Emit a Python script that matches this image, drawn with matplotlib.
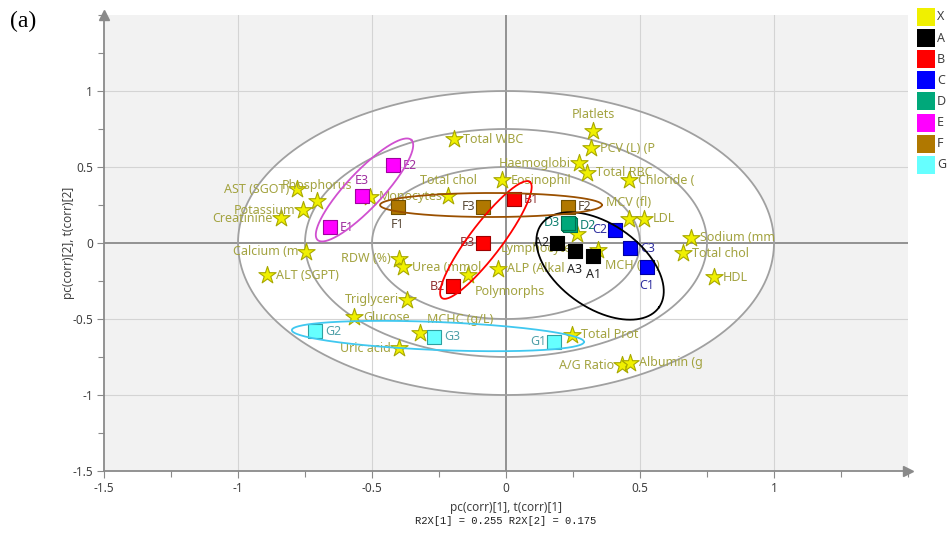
import numpy as np
import matplotlib.pyplot as plt
from matplotlib.patches import Rectangle
from matplotlib.ticker import MultipleLocator, FuncFormatter

plt.rcParams['font.family'] = ['Noto Sans', 'DejaVu Sans']
plt.rcParams['axes.unicode_minus'] = False

# loadings of the measured variables (group X)
var_names = ['Platlets', 'PCV (L) (P', 'Haemoglobi', 'Total RBC', 'Chloride (',
             'Eosinophil', 'Total WBC', 'Total chol', 'Monocytes', 'AST (SGOT)',
             'Phosphorus', 'Potassium', 'Creatinine', 'Calcium (m', 'ALT (SGPT)',
             'RDW (%)', 'Urea (mmol', 'Polymorphs', 'ALP (Alkal', 'Triglyceri',
             'Glucose', 'MCHC (g/L)', 'Uric acid', 'Total Prot', 'A/G Ratio',
             'Albumin (g', 'MCV (fl)', 'LDL', 'Lymphocyte', 'MCH (pg)',
             'Sodium (mm', 'Total chol', 'HDL']
var_x = [0.325, 0.317, 0.272, 0.302, 0.459,
         -0.015, -0.194, -0.216, -0.507, -0.780,
         -0.705, -0.757, -0.840, -0.746, -0.892,
         -0.399, -0.384, -0.142, -0.030, -0.369,
         -0.567, -0.321, -0.399, 0.246, 0.433,
         0.463, 0.459, 0.515, 0.265, 0.343,
         0.690, 0.660, 0.776]
var_y = [0.737, 0.625, 0.526, 0.461, 0.414,
         0.414, 0.684, 0.309, 0.303, 0.355,
         0.276, 0.217, 0.164, -0.059, -0.211,
         -0.105, -0.158, -0.211, -0.171, -0.375,
         -0.487, -0.592, -0.691, -0.605, -0.803,
         -0.789, 0.158, 0.158, 0.059, -0.046,
         0.033, -0.066, -0.224]

# scores of the samples
obs_names = ['A1', 'A2', 'A3', 'B1', 'B2', 'B3', 'C1', 'C2', 'C3',
             'D1', 'D2', 'D3', 'E1', 'E2', 'E3', 'F1', 'F2', 'F3',
             'G1', 'G2', 'G3']
obs_x = [0.325, 0.190, 0.257, 0.030, -0.198, -0.086, 0.526, 0.407, 0.463,
         0.235, 0.239, 0.231, -0.657, -0.422, -0.537, -0.403, 0.231, -0.086,
         0.179, -0.713, -0.269]
obs_y = [-0.086, 0.000, -0.053, 0.289, -0.283, 0.000, -0.158, 0.086, -0.033,
         0.125, 0.118, 0.132, 0.105, 0.513, 0.309, 0.237, 0.237, 0.237,
         -0.651, -0.579, -0.618]

groups = ['X', 'A', 'B', 'C', 'D', 'E', 'F', 'G']

# hand drawn group ellipses: centre, half major axis, half minor axis
ell_groups = ['A', 'B', 'E', 'F', 'G']
ell_center = [(0.351, -0.151), (-0.075, 0.020), (-0.528, 0.349), (-0.056, 0.250), (-0.254, -0.612)]
ell_major = [(0.220, -0.272), (0.164, 0.382), (0.175, 0.329), (0.414, 0.0), (0.545, -0.039)]
ell_minor = [(-0.090, -0.226), (0.048, -0.064), (0.049, -0.081), (0.0, 0.079), (-0.002, -0.092)]

face = {'X': '#f0f000', 'A': '#000000', 'B': '#ff0000', 'C': '#0000ff', 'D': '#00a87a',
        'E': '#ff00ff', 'F': '#b07800', 'G': '#66ffff'}
edge = {'A': '#000000', 'B': '#a00000', 'C': '#0000a0', 'D': '#007050',
        'E': '#a000a0', 'F': '#705000', 'G': '#30a0a0'}
txtc = {'A': '#202020', 'B': '#903030', 'C': '#3030a0', 'D': '#108070',
        'E': '#a030a0', 'F': '#5a4a38', 'G': '#50a0a8'}
ellc = {'A': '#000000', 'B': '#ff0000', 'E': '#d050d0', 'F': '#9a5000', 'G': '#40c8f0'}

# label placement, offsets in pixels (dx, dy up) and alignment
place = {'r': (9, 0, 'left'), 'l': (-8, 0, 'right'), 't': (0, 16, 'center'),
         'b': (0, -18, 'center'), 'br': (7, -16, 'left'), 'tr': (7, 13, 'left'),
         'bl': (-5, -14, 'right'), 'sr': (10, 0, 'left'), 'sl': (-8, 0, 'right')}
var_place = ['t', 'r', 'l', 'r', 'r',
             'r', 'r', 't', 'r', 'l',
             't', 'l', 'l', 'l', 'r',
             'l', 'r', 'br', 'r', 'l',
             'r', 'tr', 'l', 'r', 'l',
             'r', 't', 'r', 'bl', 'br',
             'r', 'r', 'r']
obs_place = {'A1': 'b', 'A2': 'sl', 'A3': 'b', 'B2': 'sl', 'B3': 'sl', 'C1': 'b',
             'C2': 'sl', 'D3': 'sl', 'E3': 't', 'F1': 'b', 'F3': 'sl', 'G1': 'sl',
             'D1': None}

fig = plt.figure(figsize=(9.5, 5.33), dpi=100)
ax = fig.add_axes([104 / 950, 1 - 471 / 533, 804 / 950, 456 / 533])
ax.set_facecolor('#f2f2f2')
ax.set_xlim(-1.5, 1.5)
ax.set_ylim(-1.5, 1.5)

# white disc inside the outer circle, grid on top of it
t = np.linspace(0, 2 * np.pi, 400)
ax.fill(np.cos(t), np.sin(t), color='white', zorder=0.2, lw=0)
for v in [-1, -0.5, 0.5, 1]:
    ax.axvline(v, color='#d4d4d4', lw=0.8, zorder=0.5)
    ax.axhline(v, color='#d4d4d4', lw=0.8, zorder=0.5)
ax.axvline(0, color='#8a8a8a', lw=1.3, zorder=0.6)
ax.axhline(0, color='#8a8a8a', lw=1.3, zorder=0.6)
for r in [1.0, 0.75, 0.5]:
    ax.plot(r * np.cos(t), r * np.sin(t), color='#a0a0a0', lw=1.3, zorder=0.8)

# axes styling
for s in ['top', 'right']:
    ax.spines[s].set_visible(False)
for s in ['left', 'bottom']:
    ax.spines[s].set_color('#8a8a8a')
    ax.spines[s].set_linewidth(1.3)
ax.plot([0], [1], marker='^', color='#8a8a8a', ms=7, transform=ax.transAxes, clip_on=False)
ax.plot([1], [0], marker='>', color='#8a8a8a', ms=7, transform=ax.transAxes, clip_on=False)
ax.set_xticks([-1.5, -1, -0.5, 0, 0.5, 1])
ax.set_yticks([-1.5, -1, -0.5, 0, 0.5, 1])
ax.xaxis.set_minor_locator(MultipleLocator(0.25))
ax.yaxis.set_minor_locator(MultipleLocator(0.25))
fmt = FuncFormatter(lambda v, p: '%g' % v)
ax.xaxis.set_major_formatter(fmt)
ax.yaxis.set_major_formatter(fmt)
ax.tick_params(which='both', direction='out', color='#8a8a8a', length=5, width=0.8,
               labelsize=8.5, labelcolor='#404040', pad=3)
ax.tick_params(which='minor', length=4)

ax.set_ylabel('pc(corr)[2], t(corr)[2]', fontsize=8.5, color='#404040')
ax.yaxis.set_label_coords(-0.036, 0.5)
fig.text(506 / 950, 1 - 507 / 533, 'pc(corr)[1], t(corr)[1]', fontsize=8.5,
         color='#404040', ha='center', va='center')
fig.text(506 / 950, 1 - 521 / 533, 'R2X[1] = 0.255 R2X[2] = 0.175', fontsize=7.6,
         family='Liberation Mono', color='#202020', ha='center', va='center')
fig.text(10 / 950, 1 - 21 / 533, '(a)', fontsize=17, family='Liberation Serif',
         ha='left', va='center')


def put_label(x, y, text, code, color):
    dx, dy, ha = place[code]
    ax.annotate(text, (x, y), xytext=(dx * 0.72, dy * 0.72), textcoords='offset points',
                ha=ha, va='center', fontsize=9, color=color, zorder=3)


# variables as stars
ax.scatter(var_x, var_y, marker='*', s=170, color=face['X'], edgecolor='#a8a800',
           linewidth=0.8, zorder=2)
for n, x, y, code in zip(var_names, var_x, var_y, var_place):
    put_label(x, y, n, code, '#a3a340')

# samples as squares
for n, x, y in zip(obs_names, obs_x, obs_y):
    g = n[0]
    ax.scatter([x], [y], marker='s', s=95, color=face[g], edgecolor=edge[g],
               linewidth=0.8, zorder=4)
    code = obs_place.get(n, 'sr')
    if code:
        put_label(x, y, n, code, txtc[g])

# group ellipses
for g, c, a, b in zip(ell_groups, ell_center, ell_major, ell_minor):
    ex = c[0] + a[0] * np.cos(t) + b[0] * np.sin(t)
    ey = c[1] + a[1] * np.cos(t) + b[1] * np.sin(t)
    ax.plot(ex, ey, color=ellc[g], lw=1.3, zorder=5)

# legend
for i, g in enumerate(groups):
    yc = 17 + i * 21.1
    fig.add_artist(Rectangle((917 / 950, 1 - (yc + 9) / 533), 18 / 950, 18 / 533,
                             transform=fig.transFigure, facecolor=face[g], edgecolor='none'))
    fig.text(937 / 950, 1 - yc / 533, g, fontsize=9, color='#404040', ha='left', va='center')

fig.savefig('out.png', dpi=100)
